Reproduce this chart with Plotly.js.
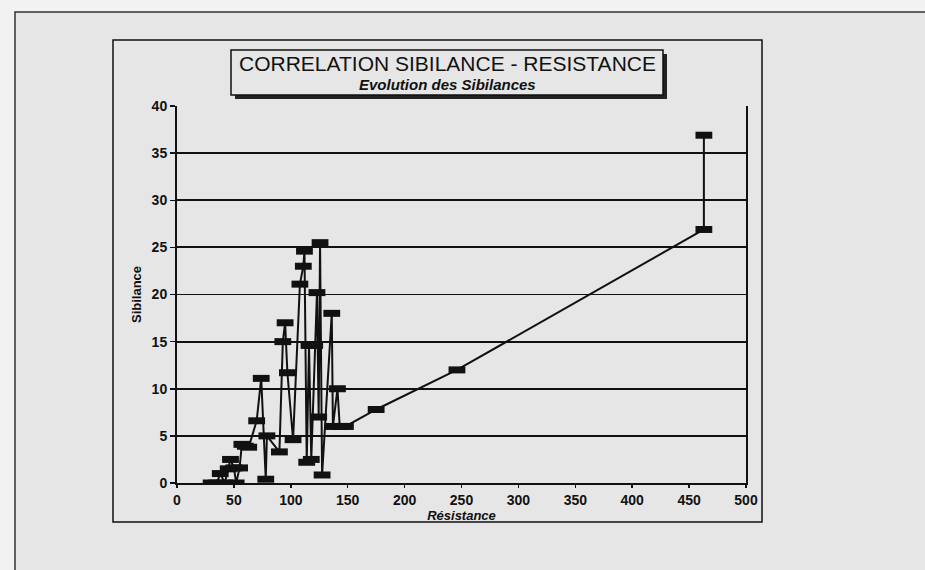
<!DOCTYPE html>
<html>
<head>
<meta charset="utf-8">
<script src="https://cdn.plot.ly/plotly-3.0.1.min.js"></script>
<style>html,body{margin:0;padding:0;background:#f2f2f2;}#chart{width:925px;height:570px;}</style>
</head>
<body>
<div id="chart"></div>
<script>
// Data (Résistance, Sibilance), in drawing order
const resistance = [30, 35, 38, 42, 45, 47, 50, 52, 55, 57, 60, 63, 70, 74, 78, 79, 90, 93, 95, 97, 102, 108, 111, 112, 114, 116, 118, 121, 123, 124.5, 125.7, 127.5, 136, 137, 141, 143, 148, 175, 246, 463, 463];
const sibilance  = [0, 0, 1.0, 0, 1.5, 2.5, 1.6, 0, 1.6, 4.1, 3.9, 3.8, 6.6, 11.1, 0.4, 5.0, 3.3, 15.0, 17.0, 11.7, 4.6, 21.1, 23.0, 24.6, 2.2, 14.6, 2.5, 14.6, 20.2, 7.0, 25.5, 0.85, 18.0, 6.0, 10.0, 6.0, 6.0, 7.8, 12.0, 26.9, 36.9];
const yTicks = [0, 5, 10, 15, 20, 25, 30, 35, 40];
const xTicks = [0, 50, 100, 150, 200, 250, 300, 350, 400, 450, 500];
const titleMain = 'CORRELATION SIBILANCE - RESISTANCE';
const titleSub = 'Evolution des Sibilances';

// Layout geometry (pixels)
const L = 177, R = 746, T = 106, B = 483;
const W = R - L, H = B - T;
const px = v => (v - L) / W;
const py = v => (B - v) / H;

const font = 'Liberation Sans, Arial, Helvetica, sans-serif';
const bg = '#e6e6e6';

const trace = {
  x: resistance, y: sibilance, type: 'scatter', mode: 'lines+markers',
  line: {color: '#111', width: 2},
  marker: {symbol: 'line-ew', size: 12, color: '#111', line: {color: '#111', width: 7}},
  hoverinfo: 'x+y', showlegend: false
};

const shapes = [
  // outer page frame
  {type: 'rect', xref: 'paper', yref: 'paper', x0: px(15), x1: px(940), y0: py(590), y1: py(12), layer: 'below',
   fillcolor: bg, line: {color: '#333', width: 1.5}},
  // chart frame
  {type: 'rect', xref: 'paper', yref: 'paper', x0: px(113), x1: px(762), y0: py(522), y1: py(40), layer: 'below',
   fillcolor: bg, line: {color: '#111', width: 1.5}},
  // title shadow
  {type: 'rect', xref: 'paper', yref: 'paper', x0: px(235), x1: px(667), y0: py(99), y1: py(54),
   fillcolor: '#222', line: {width: 0}},
  // title box
  {type: 'rect', xref: 'paper', yref: 'paper', x0: px(231), x1: px(663), y0: py(95), y1: py(50),
   fillcolor: bg, line: {color: '#111', width: 1.5}}
];

const annotations = [
  {xref: 'paper', yref: 'paper', x: px(447), y: py(64), text: titleMain, showarrow: false,
   font: {family: font, size: 21, color: '#111'}, xanchor: 'center', yanchor: 'middle'},
  {xref: 'paper', yref: 'paper', x: px(447), y: py(84), text: '<b><i>' + titleSub + '</i></b>', showarrow: false,
   font: {family: font, size: 15, color: '#111'}, xanchor: 'center', yanchor: 'middle'}
];

const layout = {
  width: 925, height: 570,
  margin: {l: L, r: 925 - R, t: T, b: 570 - B, pad: 0},
  paper_bgcolor: '#f2f2f2', plot_bgcolor: 'rgba(0,0,0,0)',
  font: {family: font, color: '#111'},
  xaxis: {
    range: [0, 500], tickvals: xTicks, ticktext: xTicks.map(String),
    showgrid: false, zeroline: false, showline: true, linecolor: '#111', linewidth: 2,
    ticks: 'outside', ticklen: 3, tickwidth: 1.5, tickcolor: '#111',
    tickfont: {family: font, size: 14, color: '#111', weight: 'bold'},
    title: {text: '<b><i>Résistance</i></b>', font: {family: font, size: 13, color: '#111'}, standoff: 1}
  },
  yaxis: {
    range: [0, 40], tickvals: yTicks, ticktext: yTicks.map(String),
    showgrid: true, gridcolor: '#111', gridwidth: 1.8, zeroline: false,
    showline: true, mirror: true, linecolor: '#111', linewidth: 2,
    ticks: 'outside', ticklen: 5, tickwidth: 1.5, tickcolor: '#111',
    tickfont: {family: font, size: 14, color: '#111', weight: 'bold'},
    title: {text: '<b>Sibilance</b>', font: {family: font, size: 13, color: '#111'}, standoff: 7}
  },
  shapes: shapes,
  annotations: annotations
};

Plotly.newPlot('chart', [trace], layout, {staticPlot: true, displayModeBar: false});
</script>
</body>
</html>
